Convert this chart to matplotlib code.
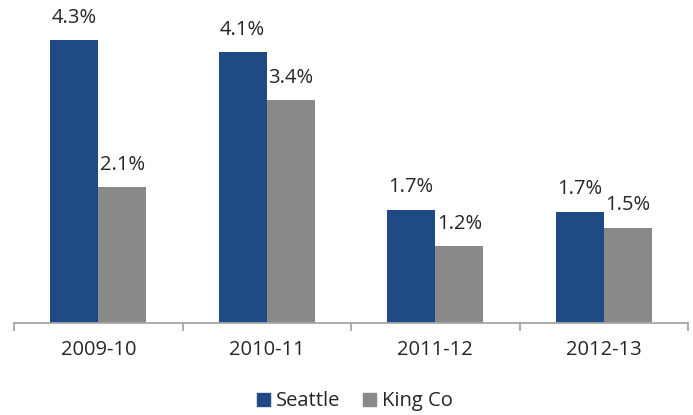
import numpy as np
import matplotlib.pyplot as plt
from matplotlib.patches import Patch

# data
years = ['2009-10', '2010-11', '2011-12', '2012-13']
seattle = [4.30, 4.12, 1.72, 1.69]
king_co = [2.07, 3.39, 1.17, 1.45]
seattle_labels = ['4.3%', '4.1%', '1.7%', '1.7%']
king_labels = ['2.1%', '3.4%', '1.2%', '1.5%']

blue = '#1F4A86'
grey = '#898989'
text_col = '#262626'

plt.rcParams['font.family'] = ['Open Sans', 'DejaVu Sans']

fig = plt.figure(figsize=(6.93, 4.15), dpi=100)
ax = fig.add_axes([14 / 693, (415 - 323) / 415, (688 - 14) / 693, (323 - 10) / 415])

x = np.arange(len(years))
w = 48 / 168
b1 = ax.bar(x - w / 2, seattle, w, color=blue, label='Seattle')
b2 = ax.bar(x + w / 2, king_co, w, color=grey, label='King Co')

for rect, lab in zip(b1, seattle_labels):
    ax.annotate(lab, (rect.get_x() + rect.get_width() / 2, rect.get_height()),
                xytext=(0, 9), textcoords='offset points', ha='center', va='bottom',
                fontsize=14.5, color=text_col)
for rect, lab in zip(b2, king_labels):
    ax.annotate(lab, (rect.get_x() + rect.get_width() / 2, rect.get_height()),
                xytext=(0, 9), textcoords='offset points', ha='center', va='bottom',
                fontsize=14.5, color=text_col)

ax.set_xlim(-0.5, len(years) - 0.5)
ax.set_ylim(0, 313 / 65.7)

for s in ['top', 'right', 'left']:
    ax.spines[s].set_visible(False)
ax.spines['bottom'].set_color('#A6A6A6')
ax.spines['bottom'].set_linewidth(1.3)
ax.set_yticks([])

# category labels at centre, tick marks at the boundaries
ax.set_xticks(x)
ax.set_xticklabels(years, fontsize=14.5, color=text_col)
ax.tick_params(axis='x', which='major', length=0, pad=12)
ax.set_xticks(np.arange(len(years) + 1) - 0.5, minor=True)
ax.tick_params(axis='x', which='minor', length=6, width=1.3, color='#A6A6A6')

handles = [Patch(color=blue, label='Seattle'), Patch(color=grey, label='King Co')]
fig.legend(handles=handles, loc='lower center', bbox_to_anchor=(0.512, -0.035), ncol=2,
           frameon=False, fontsize=14.5, handlelength=0.65, handleheight=0.65,
           handletextpad=0.3, columnspacing=1.1, labelcolor=text_col)

fig.savefig('out.png', dpi=100)
